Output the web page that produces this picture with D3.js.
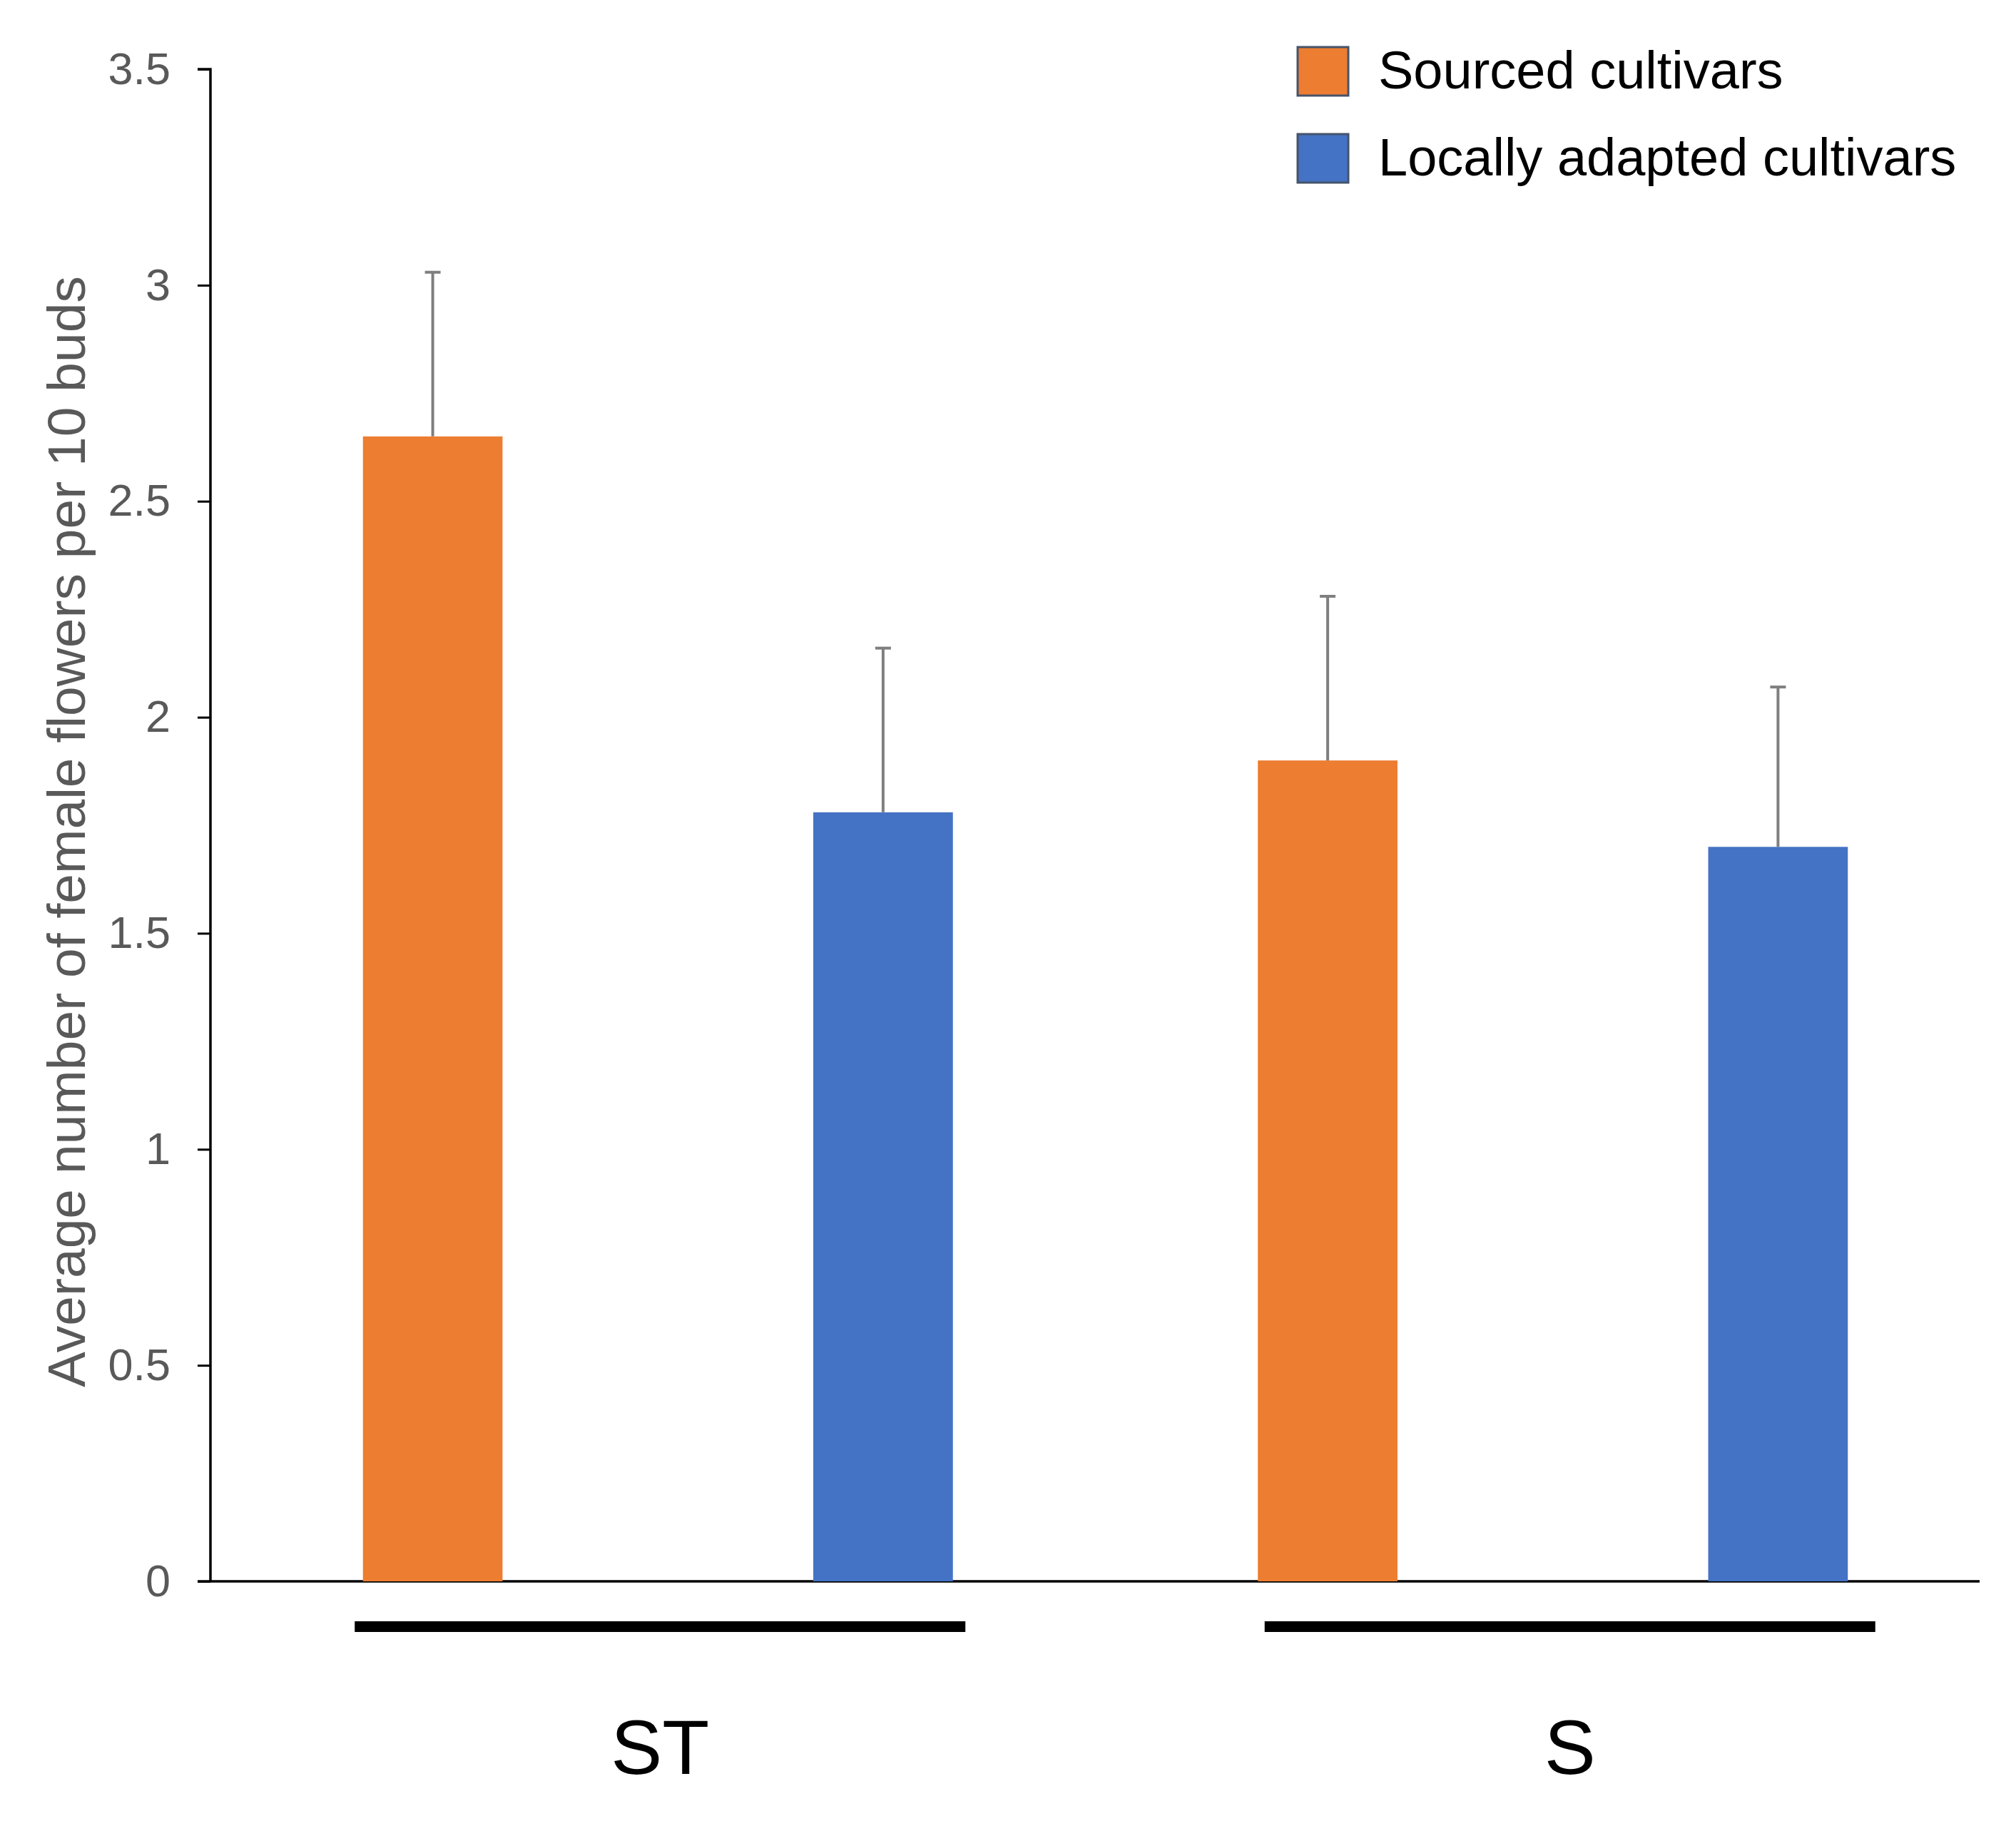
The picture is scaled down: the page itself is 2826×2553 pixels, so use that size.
<!DOCTYPE html>
<html>
<head>
<meta charset="utf-8">
<script src="https://cdn.jsdelivr.net/npm/d3@7"></script>
<style>
  body { margin: 0; background: #fff; }
  svg { display: block; font-family: "Liberation Sans", Arial, sans-serif; }
</style>
</head>
<body>
<svg id="chart" width="2826" height="2553"></svg>
<script>
// data
const groups = ["ST", "S"];
const series = ["Sourced cultivars", "Locally adapted cultivars"];
const sourced = [2.65, 1.90];
const sourcedErr = [0.38, 0.38];
const local = [1.78, 1.70];
const localErr = [0.38, 0.37];
const yTicks = [0, 0.5, 1, 1.5, 2, 2.5, 3, 3.5];

const colors = ["#ED7D31", "#4472C4"];

const rows = [];
groups.forEach((g, i) => {
  rows.push({ group: g, series: series[0], value: sourced[i], err: sourcedErr[i] });
  rows.push({ group: g, series: series[1], value: local[i], err: localErr[i] });
});

const svg = d3.select("#chart");

const axisX = 295, axisRight = 2775;
const y = d3.scaleLinear().domain([0, 3.5]).range([2217, 97]);

const x0 = d3.scaleBand().domain(groups).range([axisX, 2804]);
const x1 = d3.scaleBand().domain(series)
  .range([-413.5, 413.5]).paddingInner(0.69);
const color = d3.scaleOrdinal().domain(series).range(colors);
const center = g => x0(g) + x0.bandwidth() / 2;

// y axis
const yAxis = svg.append("g")
  .attr("transform", `translate(${axisX},0)`)
  .call(d3.axisLeft(y).tickValues(yTicks).tickSize(18).tickPadding(38)
    .tickFormat(d => String(d)));
yAxis.select(".domain").attr("stroke", "#000").attr("stroke-width", 3.5)
  .attr("d", `M-18,${y(3.5)}H0V${y(0)}`);
yAxis.selectAll(".tick line").attr("stroke", "#000").attr("stroke-width", 3);
yAxis.selectAll(".tick text")
  .attr("fill", "#595959")
  .style("font-size", "63px")
  .style("font-family", "'Liberation Sans', Arial, sans-serif");

// x axis baseline
svg.append("line")
  .attr("x1", axisX - 18).attr("x2", axisRight)
  .attr("y1", y(0)).attr("y2", y(0))
  .attr("stroke", "#000").attr("stroke-width", 3.5);

// bars
const bw = x1.bandwidth();
svg.append("g").selectAll("rect")
  .data(rows)
  .join("rect")
  .attr("x", d => center(d.group) + x1(d.series))
  .attr("y", d => y(d.value))
  .attr("width", bw)
  .attr("height", d => y(0) - y(d.value))
  .attr("fill", d => color(d.series));

// error bars (upper only)
const eb = svg.append("g").attr("stroke", "#7f7f7f").attr("stroke-width", 4);
eb.selectAll("line.v")
  .data(rows)
  .join("line")
  .attr("class", "v")
  .attr("x1", d => center(d.group) + x1(d.series) + bw / 2)
  .attr("x2", d => center(d.group) + x1(d.series) + bw / 2)
  .attr("y1", d => y(d.value))
  .attr("y2", d => y(d.value + d.err));
eb.selectAll("line.cap")
  .data(rows)
  .join("line")
  .attr("class", "cap")
  .attr("x1", d => center(d.group) + x1(d.series) + bw / 2 - 11)
  .attr("x2", d => center(d.group) + x1(d.series) + bw / 2 + 11)
  .attr("y1", d => y(d.value + d.err))
  .attr("y2", d => y(d.value + d.err));

// group brackets and labels
const nudge = { ST: 3, S: 24 };
svg.append("g").selectAll("rect")
  .data(groups)
  .join("rect")
  .attr("x", g => center(g) + nudge[g] - 428)
  .attr("y", 2273)
  .attr("width", 856)
  .attr("height", 15)
  .attr("fill", "#000");

svg.append("g").selectAll("text")
  .data(groups)
  .join("text")
  .attr("x", g => center(g) + nudge[g])
  .attr("y", 2487)
  .attr("text-anchor", "middle")
  .style("font-size", "108px")
  .attr("fill", "#000")
  .text(g => g);

// y axis title
svg.append("text")
  .attr("transform", "translate(119,1166) rotate(-90)")
  .attr("text-anchor", "middle")
  .attr("fill", "#595959")
  .style("font-size", "75px")
  .text("Average number of female flowers per 10 buds");

// legend
const legend = svg.append("g").selectAll("g")
  .data(series)
  .join("g")
  .attr("transform", (d, i) => `translate(1819,${66 + i * 122})`);
legend.append("rect")
  .attr("width", 71).attr("height", 68)
  .attr("fill", d => color(d))
  .attr("stroke", "#44546A").attr("stroke-width", 3);
legend.append("text")
  .attr("x", 113).attr("y", 58)
  .style("font-size", "74px")
  .attr("fill", "#000")
  .text(d => d);
</script>
</body>
</html>
